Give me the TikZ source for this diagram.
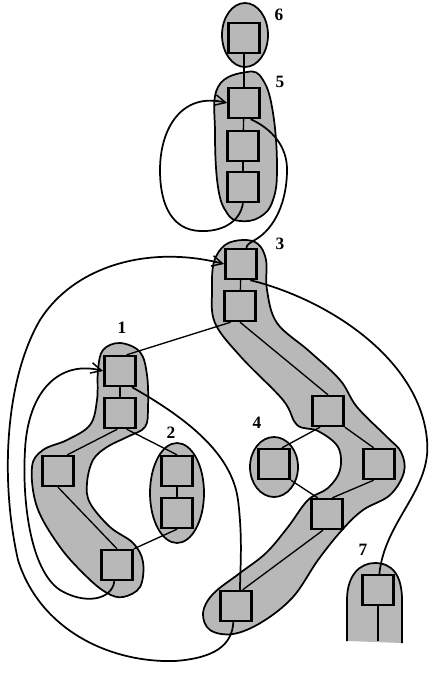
\documentclass[tikz,border=0pt]{standalone}
\usepackage{fontspec}
\setmainfont{Liberation Serif}
\usetikzlibrary{arrows.meta}
\begin{document}
\begin{tikzpicture}[x=0.75pt,y=-0.75pt,
  box/.style={draw, line width=1.8pt, fill=black!28, minimum width=23.5pt, minimum height=22.5pt, inner sep=0pt},
  blob/.style={draw, line width=1.3pt, fill=black!28},
  link/.style={line width=1pt},
  curvy/.style={line width=1.3pt},
  arr/.style={-{Straight Barb[length=8pt,width=8pt,line width=1.1pt]}},
  lab/.style={font=\bfseries\fontsize{13}{14}\selectfont, inner sep=0pt}]
\useasboundingbox (0,0) rectangle (436,673);

% clusters
\draw[blob] (245,35) ellipse [x radius=23, y radius=32];
\draw[blob] plot[smooth cycle, tension=0.7] coordinates {(247,72) (263,80) (273,113) (277,167) (273,200) (260,217) (240,221) (227,213) (218,187) (215,133) (218,87)};
\draw[blob] plot[smooth cycle, tension=0.6] coordinates {(243,240) (258,244) (266,260) (267,290) (277,323) (309,351) (340,380) (357,407) (387,437) (401,452) (404,472) (390,495) (363,510) (342,530) (318,560) (293,597) (262,622) (233,634) (210,630) (203,613) (213,594) (240,573) (266,553) (288,527) (308,500) (328,488) (340,470) (338,447) (318,431) (297,425) (283,400) (241,357) (215,323) (212,290) (214,262) (225,245)};
\draw[blob] (274,467) ellipse [x radius=24, y radius=30];
\draw[blob] (177,493) ellipse [x radius=27, y radius=50];
\draw[blob] plot[smooth cycle, tension=0.6] coordinates {(120,343) (140,352) (147,375) (148,407) (145,427) (127,437) (107,447) (93,460) (87,483) (90,503) (110,527) (133,543) (143,562) (140,587) (123,597) (107,593) (87,577) (60,547) (37,507) (32,467) (43,450) (67,440) (90,425) (97,400) (98,370) (103,350)};
\fill[black!28] (347,641) -- (347,600) .. controls (347,575) and (360,563) .. (375,563) .. controls (392,563) and (402,575) .. (402,600) -- (402,643) -- cycle;
\draw[line width=1.3pt] (347,641) -- (347,600) .. controls (347,575) and (360,563) .. (375,563) .. controls (392,563) and (402,575) .. (402,600) -- (402,643);

% boxes
\node[box] (b6) at (244,38) {};
\node[box] (b5a) at (244,103) {};
\node[box] (b5b) at (243,146) {};
\node[box] (b5c) at (243,187) {};
\node[box] (b3a) at (241,264) {};
\node[box] (b3b) at (240,306) {};
\node[box] (b3c) at (328,411) {};
\node[box] (b3d) at (379,464) {};
\node[box] (b3e) at (327,514) {};
\node[box] (b3f) at (236,606) {};
\node[box] (b4) at (274,464) {};
\node[box] (b7) at (378,590) {};
\node[box] (b1a) at (120,371) {};
\node[box] (b1b) at (120,413) {};
\node[box] (b1c) at (58,471) {};
\node[box] (b1d) at (117,565) {};
\node[box] (b2a) at (177,471) {};
\node[box] (b2b) at (177,513) {};
\coordinate (e7) at (378,641);

% labels
\node[lab] (l6) at (279,15) {6};
\node[lab] (l5) at (280,82) {5};
\node[lab] (l3) at (280,244) {3};
\node[lab] (l1) at (122,328) {1};
\node[lab] (l2) at (171,433) {2};
\node[lab] (l4) at (257,423) {4};
\node[lab] (l7) at (363,550) {7};

% straight links
\draw[link] (b6) -- (b5a);
\draw[link] (b5a) -- (b5b);
\draw[link] (b5b) -- (b5c);
\draw[link] (b3a) -- (b3b);
\draw[link] (b3b.south) -- (b3c.north);
\draw[link] ([xshift=-7pt]b3b.south) -- ([xshift=5pt]b1a.north);
\draw[link] ([xshift=-6pt]b3c.south) -- ([xshift=6pt]b4.north);
\draw[link] (b3c.south east) -- ([xshift=-4pt]b3d.north);
\draw[link] (b4.south east) -- ([xshift=-7pt]b3e.north);
\draw[link] ([xshift=-4pt]b3d.south) -- ([xshift=4pt]b3e.north);
\draw[link] ([xshift=-3pt]b3e.south) -- ([xshift=5pt]b3f.north);
\draw[link] ([xshift=-2pt]b1b.south) -- ([xshift=7pt]b1c.north);
\draw[link] ([xshift=5pt]b1b.south) -- (b2a.north);
\draw[link] (b1c.south) -- (b1d.north);
\draw[link] (b1a) -- (b1b);
\draw[link] (b2a) -- (b2b);
\draw[link] (b2b.south) -- (b1d.north east);
\draw[line width=1.5pt] (b7.south) -- (e7);

% curved connectors
\draw[curvy,arr] (b5c.south) .. controls (240,222) and (222,232) .. (200,231)
   .. controls (172,230) and (160,205) .. (160,170)
   .. controls (160,128) and (182,92) .. (b5a.west);
\draw[curvy] ([xshift=5pt]b5a.south) .. controls (270,128) and (288,145) .. (287,172)
   .. controls (286,210) and (270,230) .. (258,238)
   .. controls (250,243) and (247,244) .. ([xshift=4pt]b3a.north);
\draw[curvy,arr] ([xshift=-2pt]b3f.south) .. controls (232,645) and (215,658) .. (175,661)
   .. controls (110,663) and (40,630) .. (18,560)
   .. controls (0,480) and (5,380) .. (40,320)
   .. controls (75,265) and (150,245) .. (b3a.west);
\draw[curvy,arr] ([xshift=-2pt]b1d.south) .. controls (112,600) and (85,605) .. (60,590)
   .. controls (30,570) and (22,500) .. (25,450)
   .. controls (28,390) and (60,360) .. (b1a.west);
\draw[curvy] ([xshift=9pt]b1a.south) .. controls (190,420) and (232,455) .. (238,500)
   .. controls (243,540) and (240,570) .. ([xshift=3pt]b3f.north);
\draw[curvy] ([xshift=7pt]b3a.south) .. controls (330,300) and (420,360) .. (427,440)
   .. controls (432,490) and (385,520) .. ([xshift=1pt]b7.north);
\end{tikzpicture}
\end{document}
